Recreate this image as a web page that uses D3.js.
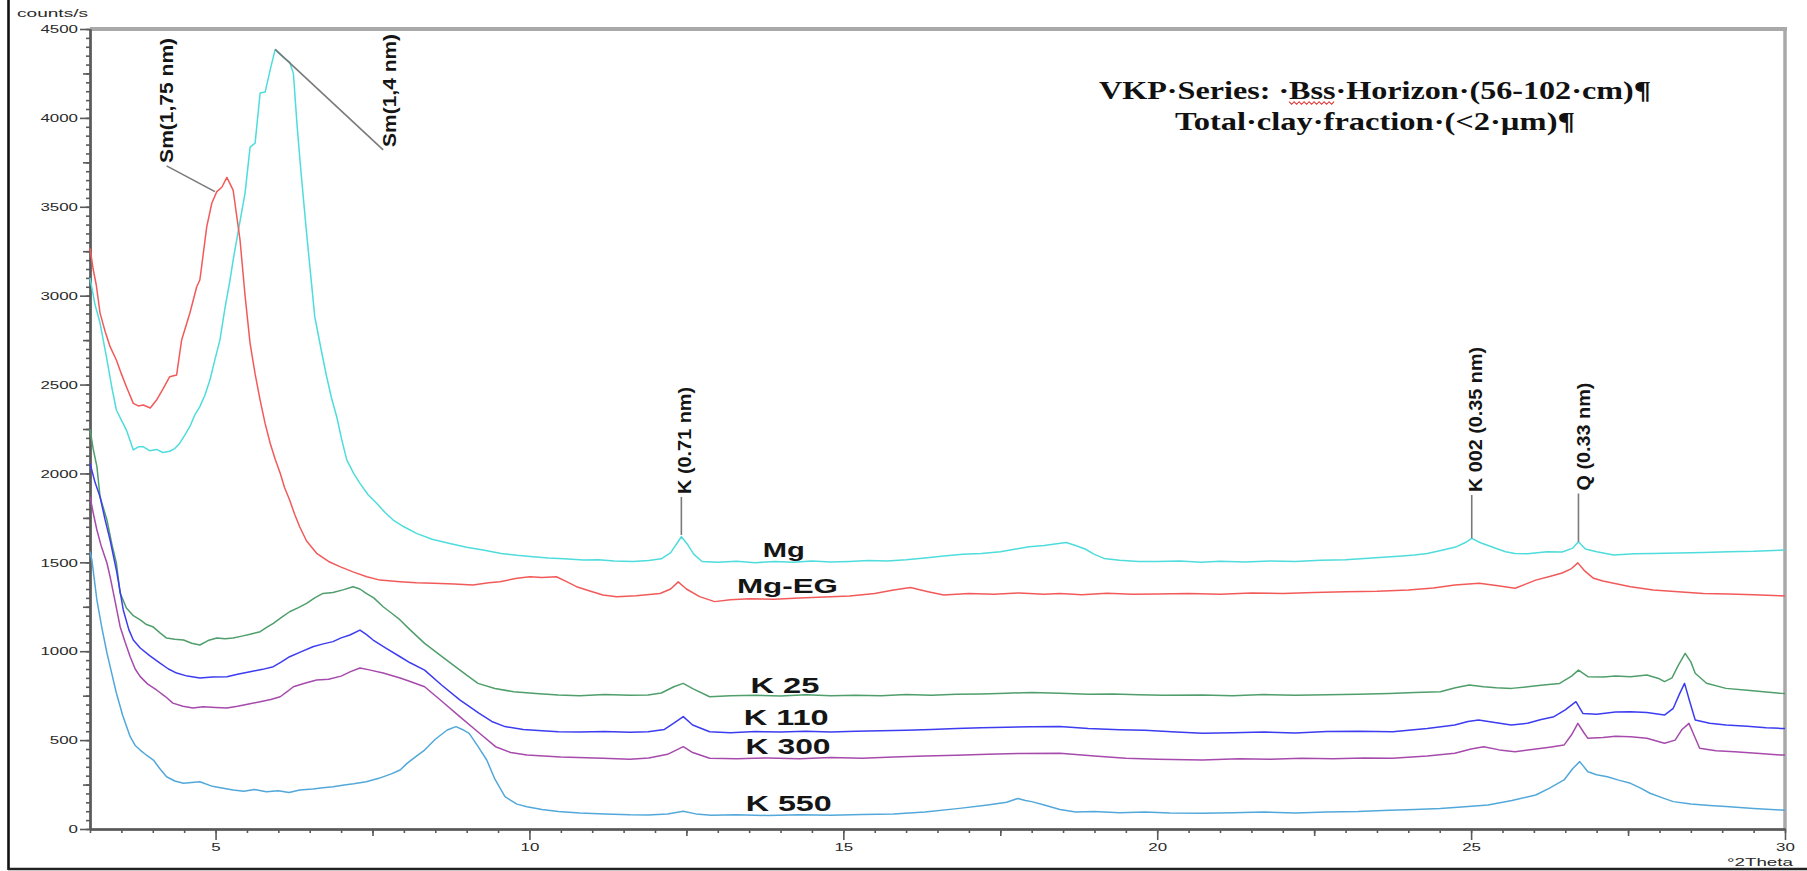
<!DOCTYPE html>
<html>
<head>
<meta charset="utf-8">
<script src="https://cdn.jsdelivr.net/npm/d3@7"></script>
<style>
  body { margin: 0; background: #fff; }
  svg { display: block; }
</style>
</head>
<body>
<svg id="chart" width="1807" height="871"></svg>
<script>
// ---------------------------------------------------------------
// XRD traces: [°2Theta, counts/s]
// ---------------------------------------------------------------
const mg = [
  [3.00,3100],[3.08,2950],[3.16,2846],[3.27,2640],[3.35,2480],[3.42,2357],[3.50,2300],[3.58,2244],
  [3.69,2132],[3.77,2150],[3.85,2150],[3.95,2128],[4.06,2135],[4.16,2118],[4.27,2125],[4.35,2140],
  [4.43,2170],[4.51,2215],[4.59,2263],[4.67,2330],[4.75,2376],[4.83,2440],[4.91,2525],[4.99,2640],
  [5.07,2751],[5.15,2930],[5.23,3088],[5.28,3200],[5.37,3380],[5.47,3577],[5.55,3836],[5.63,3858],
  [5.71,4140],[5.79,4145],[5.87,4270],[5.95,4385],[6.02,4360],[6.10,4335],[6.18,4314],[6.24,4250],
  [6.30,3950],[6.36,3700],[6.45,3352],[6.52,3100],[6.58,2882],[6.68,2700],[6.77,2544],[6.85,2420],
  [6.93,2319],[7.01,2190],[7.09,2076],[7.20,2000],[7.30,1944],[7.43,1880],[7.57,1831],[7.70,1780],
  [7.83,1738],[8.00,1700],[8.20,1663],[8.45,1630],[8.73,1606],[9.00,1585],[9.26,1569],[9.55,1550],
  [9.80,1540],[10.06,1532],[10.30,1525],[10.55,1520],[10.86,1513],[11.10,1515],[11.35,1508],[11.65,1504],
  [11.90,1510],[12.10,1520],[12.25,1555],[12.42,1644],[12.52,1600],[12.62,1545],[12.75,1505],[13.00,1500],
  [13.30,1506],[13.60,1498],[13.90,1505],[14.20,1500],[14.50,1508],[14.80,1502],[15.10,1505],[15.40,1510],
  [15.70,1508],[16.00,1515],[16.30,1525],[16.60,1535],[16.90,1545],[17.20,1550],[17.50,1560],[17.75,1575],
  [17.96,1588],[18.20,1595],[18.40,1605],[18.55,1612],[18.70,1595],[18.85,1575],[19.00,1545],[19.15,1522],
  [19.40,1512],[19.70,1505],[20.00,1505],[20.36,1508],[20.70,1500],[21.00,1506],[21.40,1502],[21.80,1508],
  [22.20,1505],[22.60,1512],[23.00,1515],[23.30,1522],[23.60,1528],[23.90,1535],[24.10,1541],[24.30,1550],
  [24.50,1565],[24.77,1588],[24.90,1610],[25.01,1635],[25.15,1610],[25.39,1579],[25.55,1560],[25.70,1550],
  [25.90,1548],[26.21,1560],[26.45,1558],[26.62,1580],[26.71,1616],[26.82,1575],[27.00,1560],[27.27,1541],
  [27.60,1548],[27.90,1550],[28.30,1552],[28.70,1556],[29.10,1560],[29.50,1562],[30.00,1569]
];

const mgEG = [
  [3.00,3268],[3.05,3150],[3.10,3060],[3.16,2902],[3.24,2800],[3.32,2713],[3.42,2638],[3.50,2560],
  [3.58,2488],[3.69,2394],[3.77,2380],[3.85,2385],[3.96,2368],[4.06,2413],[4.17,2480],[4.27,2544],
  [4.38,2554],[4.46,2751],[4.59,2901],[4.70,3050],[4.75,3088],[4.86,3388],[4.94,3520],[5.02,3585],
  [5.10,3610],[5.18,3665],[5.28,3594],[5.39,3313],[5.47,3000],[5.55,2732],[5.63,2560],[5.71,2413],
  [5.79,2280],[5.87,2170],[5.95,2080],[6.03,2001],[6.10,1920],[6.18,1851],[6.26,1770],[6.34,1700],
  [6.45,1620],[6.61,1551],[6.80,1505],[6.98,1476],[7.20,1445],[7.41,1419],[7.62,1400],[7.94,1391],
  [8.20,1385],[8.47,1382],[8.80,1378],[9.10,1372],[9.35,1385],[9.53,1391],[9.80,1410],[10.01,1419],
  [10.20,1415],[10.43,1419],[10.60,1390],[10.75,1363],[11.00,1335],[11.17,1316],[11.39,1307],[11.70,1312],
  [12.08,1325],[12.25,1350],[12.37,1390],[12.50,1350],[12.71,1307],[12.95,1279],[13.20,1290],[13.50,1295],
  [13.90,1292],[14.30,1300],[14.70,1305],[15.10,1310],[15.50,1325],[15.80,1345],[16.07,1358],[16.35,1335],
  [16.60,1316],[17.00,1325],[17.40,1320],[17.80,1328],[18.20,1320],[18.45,1325],[18.80,1318],[19.20,1326],
  [19.60,1320],[20.00,1322],[20.50,1325],[21.00,1320],[21.50,1328],[22.00,1325],[22.50,1330],[23.00,1335],
  [23.50,1338],[24.00,1345],[24.40,1355],[24.74,1372],[25.13,1382],[25.40,1370],[25.70,1354],[26.03,1400],
  [26.25,1420],[26.45,1440],[26.60,1465],[26.70,1497],[26.80,1455],[26.95,1410],[27.10,1395],[27.27,1382],
  [27.54,1363],[27.90,1344],[28.30,1335],[28.70,1325],[29.10,1322],[29.50,1318],[29.93,1312],[30.00,1310]
];

const k25 = [
  [3.00,2250],[3.05,2140],[3.11,2038],[3.16,1869],[3.27,1738],[3.35,1600],[3.42,1496],[3.48,1327],
  [3.58,1243],[3.69,1200],[3.80,1176],[3.90,1150],[4.00,1138],[4.11,1105],[4.22,1074],[4.35,1068],
  [4.49,1063],[4.62,1045],[4.75,1035],[4.88,1060],[5.02,1074],[5.15,1070],[5.28,1074],[5.42,1085],
  [5.55,1095],[5.71,1110],[5.82,1135],[5.92,1157],[6.05,1190],[6.18,1222],[6.32,1245],[6.45,1269],
  [6.58,1300],[6.71,1325],[6.87,1330],[7.03,1345],[7.19,1363],[7.30,1350],[7.40,1325],[7.52,1300],
  [7.67,1250],[7.80,1215],[7.94,1176],[8.10,1120],[8.33,1044],[8.55,985],[8.75,932],[9.00,865],
  [9.18,819],[9.45,790],[9.75,772],[10.10,762],[10.46,754],[10.80,750],[11.20,756],[11.60,752],
  [11.89,754],[12.10,765],[12.30,800],[12.45,819],[12.60,790],[12.87,744],[13.20,750],[13.60,752],
  [14.00,748],[14.40,755],[14.80,750],[15.20,753],[15.60,750],[16.00,756],[16.40,752],[16.80,758],
  [17.20,760],[17.60,764],[18.00,768],[18.45,763],[18.90,758],[19.30,760],[19.70,755],[20.10,752],
  [20.72,754],[21.20,750],[21.70,756],[22.20,752],[22.70,755],[23.20,758],[23.70,762],[24.10,768],
  [24.51,772],[24.75,795],[24.97,810],[25.20,800],[25.40,795],[25.64,791],[25.90,800],[26.15,810],
  [26.41,819],[26.60,860],[26.71,894],[26.86,857],[27.10,855],[27.30,860],[27.54,857],[27.80,866],
  [28.00,845],[28.08,829],[28.20,850],[28.30,920],[28.41,988],[28.50,940],[28.57,876],[28.75,820],
  [29.06,791],[29.40,780],[29.70,770],[29.93,763],[30.00,762]
];

const k110 = [
  [3.00,2057],[3.08,1950],[3.16,1869],[3.24,1740],[3.32,1625],[3.42,1457],[3.53,1232],[3.62,1120],
  [3.69,1063],[3.80,1018],[3.95,975],[4.11,934],[4.25,900],[4.38,877],[4.55,860],[4.75,849],
  [4.95,855],[5.18,857],[5.35,870],[5.55,885],[5.75,898],[5.92,913],[6.05,940],[6.18,969],
  [6.35,995],[6.55,1025],[6.70,1040],[6.87,1054],[7.00,1075],[7.14,1091],[7.30,1119],[7.40,1095],
  [7.51,1063],[7.70,1020],[7.94,969],[8.10,935],[8.33,894],[8.60,810],[8.89,726],[9.20,650],
  [9.40,605],[9.61,576],[9.90,560],[10.20,552],[10.46,547],[10.80,545],[11.20,548],[11.60,544],
  [11.89,547],[12.15,560],[12.30,595],[12.45,632],[12.60,585],[12.87,547],[13.20,542],[13.60,548],
  [14.00,545],[14.40,550],[14.80,546],[15.20,550],[15.60,552],[16.00,556],[16.40,560],[16.80,565],
  [17.20,570],[17.60,572],[18.00,575],[18.45,576],[18.90,565],[19.40,558],[19.80,555],[20.30,545],
  [20.72,538],[21.20,542],[21.70,545],[22.20,540],[22.70,548],[23.20,550],[23.75,547],[24.30,565],
  [24.74,585],[24.95,605],[25.12,613],[25.35,600],[25.64,585],[25.90,595],[26.10,615],[26.32,632],
  [26.50,670],[26.67,716],[26.78,650],[27.00,645],[27.30,658],[27.54,660],[27.80,655],[28.08,641],
  [28.22,679],[28.32,760],[28.40,819],[28.48,720],[28.57,613],[28.80,595],[29.06,585],[29.40,578],
  [29.70,570],[29.93,566],[30.00,566]
];

const k300 = [
  [3.00,1869],[3.05,1780],[3.11,1682],[3.18,1590],[3.27,1496],[3.32,1420],[3.40,1280],[3.48,1138],
  [3.56,1050],[3.64,969],[3.72,900],[3.80,857],[3.92,815],[4.06,782],[4.20,745],[4.32,708],
  [4.48,690],[4.64,680],[4.80,688],[5.00,684],[5.18,680],[5.35,690],[5.55,705],[5.71,716],
  [5.88,728],[6.03,744],[6.15,775],[6.24,800],[6.42,820],[6.61,838],[6.80,842],[7.00,860],
  [7.15,885],[7.30,906],[7.45,895],[7.67,877],[7.94,849],[8.10,830],[8.33,800],[8.60,720],
  [8.89,632],[9.20,540],[9.46,463],[9.70,430],[9.96,416],[10.50,405],[11.17,398],[11.60,392],
  [11.90,400],[12.20,420],[12.45,463],[12.60,430],[12.87,398],[13.30,395],[13.80,400],[14.30,395],
  [14.80,402],[15.30,398],[15.80,405],[16.30,410],[16.80,415],[17.30,420],[17.80,425],[18.45,426],
  [19.00,410],[19.50,398],[20.00,392],[20.72,388],[21.30,395],[21.80,392],[22.30,398],[22.80,395],
  [23.30,400],[23.75,398],[24.30,410],[24.74,426],[25.00,450],[25.20,463],[25.45,445],[25.70,435],
  [26.00,448],[26.25,460],[26.48,472],[26.60,530],[26.70,594],[26.80,540],[26.86,510],[27.10,515],
  [27.30,522],[27.54,519],[27.80,510],[28.08,482],[28.25,500],[28.36,560],[28.47,594],[28.56,520],
  [28.64,454],[28.90,440],[29.20,435],[29.60,425],[29.93,416],[30.00,416]
];

const k550 = [
  [3.00,1560],[3.03,1513],[3.07,1400],[3.11,1288],[3.19,1130],[3.27,990],[3.35,870],[3.42,765],
  [3.52,640],[3.64,519],[3.72,470],[3.80,444],[3.90,415],[4.01,388],[4.11,340],[4.22,294],
  [4.35,270],[4.49,257],[4.62,262],[4.75,266],[4.95,240],[5.10,230],[5.28,219],[5.45,212],
  [5.62,222],[5.81,210],[6.00,215],[6.17,205],[6.34,219],[6.55,225],[6.71,232],[6.87,238],
  [7.05,248],[7.20,255],[7.40,266],[7.60,285],[7.80,310],[7.94,332],[8.05,369],[8.20,410],
  [8.33,444],[8.50,505],[8.69,557],[8.83,576],[8.93,560],[9.04,538],[9.18,465],[9.32,388],
  [9.45,280],[9.61,182],[9.80,140],[9.96,125],[10.20,110],[10.46,98],[10.80,90],[11.20,85],
  [11.60,80],[11.89,79],[12.20,85],[12.45,100],[12.65,85],[12.90,78],[13.30,80],[13.80,76],
  [14.30,80],[14.80,78],[15.30,82],[15.80,85],[16.30,95],[16.85,116],[17.30,135],[17.60,150],
  [17.78,172],[17.90,160],[18.00,154],[18.20,135],[18.45,110],[18.70,95],[19.00,98],[19.40,92],
  [19.80,95],[20.20,90],[20.72,88],[21.20,92],[21.70,95],[22.20,90],[22.70,95],[23.20,98],
  [23.70,105],[24.10,110],[24.51,116],[24.90,125],[25.27,135],[25.65,160],[26.03,191],[26.25,230],
  [26.48,276],[26.62,340],[26.73,379],[26.86,322],[27.00,305],[27.17,294],[27.35,275],[27.54,257],
  [27.70,230],[27.85,201],[28.05,175],[28.22,154],[28.50,140],[28.80,132],[29.06,126],[29.50,115],
  [29.93,107],[30.00,106]
];

const seriesNames = ["Mg", "Mg-EG", "K 25", "K 110", "K 300", "K 550"];
const seriesValues = [mg, mgEG, k25, k110, k300, k550];

// Reflection labels: text, peak position [°2Theta, counts], label foot [°2Theta, counts]
const peakLabels = ["Sm(1,75 nm)", "Sm(1,4 nm)", "K (0.71 nm)", "K 002 (0.35 nm)", "Q (0.33 nm)"];
const peakAt    = [[4.99, 3585], [5.95, 4385], [12.42, 1654], [25.01, 1635], [26.71, 1616]];
const labelFoot = [[4.22, 3730], [7.67, 3820], [12.42, 1868], [25.01, 1879], [26.71, 1887]];

// Curve name positions [°2Theta, counts]
const namePos = [[14.05, 1530], [14.11, 1327], [14.07, 765], [14.09, 585], [14.12, 422], [14.13, 101]];

const yTicks = [0, 500, 1000, 1500, 2000, 2500, 3000, 3500, 4000, 4500];
const xTicks = [5, 10, 15, 20, 25, 30];

const titleLines = [
  "VKP\u00b7Series: \u00b7Bss\u00b7Horizon\u00b7(56-102\u00b7cm)\u00b6",
  "Total\u00b7clay\u00b7fraction\u00b7(<2\u00b7\u00b5m)\u00b6"
];

// ---------------------------------------------------------------
// Styling / layout
// ---------------------------------------------------------------
const colors = ["#4fdcdc", "#f25a5a", "#4f9e6b", "#3c3cf0", "#a64aac", "#52a8da"];
const nameSize = [20, 20, 22, 22, 22, 22];
const nameWidth = [42, 101, 69, 85, 85, 86];
const labelLen = [125, 113, 107, 145, 108];
const labelDx = [0, 7, 4, 4, 6];

const svg = d3.select("#chart");
const plot = { left: 90, right: 1785, top: 29, bottom: 829 };

const x = d3.scaleLinear().domain([3, 30]).range([plot.left, plot.right]);
const y = d3.scaleLinear().domain([0, 4500]).range([plot.bottom, plot.top]);

const sans = "'Liberation Sans', Arial, sans-serif";

// outer frame (left and bottom edges)
svg.append("line").attr("x1", 8.5).attr("x2", 8.5).attr("y1", 0).attr("y2", 870)
  .attr("stroke", "#111").attr("stroke-width", 2.6);
svg.append("line").attr("x1", 8).attr("x2", 1807).attr("y1", 869).attr("y2", 869)
  .attr("stroke", "#222").attr("stroke-width", 2.4);

// top and right plot border
svg.append("line").attr("x1", plot.left).attr("x2", plot.right + 2).attr("y1", plot.top).attr("y2", plot.top)
  .attr("stroke", "#a9a9a9").attr("stroke-width", 4);
svg.append("line").attr("x1", plot.right).attr("x2", plot.right).attr("y1", plot.top).attr("y2", plot.bottom)
  .attr("stroke", "#a9a9a9").attr("stroke-width", 3.5);

// ---------------- axes ----------------
function styleAxis(g) {
  g.select(".domain").attr("stroke", "#5a5a5a").attr("stroke-width", 2);
  g.selectAll(".tick line").attr("stroke", "#5a5a5a").attr("stroke-width", 1.6);
}

const yMinor = svg.append("g").attr("transform", `translate(${plot.left},0)`)
  .call(d3.axisLeft(y).tickValues(d3.range(0, 4501, 50)).tickSize(4).tickFormat("").tickSizeOuter(0));
styleAxis(yMinor);
const yMid = svg.append("g").attr("transform", `translate(${plot.left},0)`)
  .call(d3.axisLeft(y).tickValues(d3.range(250, 4500, 500)).tickSize(7).tickFormat("").tickSizeOuter(0));
styleAxis(yMid);
const yMajor = svg.append("g").attr("transform", `translate(${plot.left},0)`)
  .call(d3.axisLeft(y).tickValues(yTicks).tickSize(10).tickPadding(2).tickSizeOuter(0).tickFormat(d3.format("d")));
styleAxis(yMajor);
yMajor.selectAll("text")
  .attr("font-family", sans).attr("font-size", 11.5).attr("fill", "#2a2a2a")
  .attr("textLength", d => String(d).length * 9.4).attr("lengthAdjust", "spacingAndGlyphs");

const xMinor = svg.append("g").attr("transform", `translate(0,${plot.bottom})`)
  .call(d3.axisBottom(x).tickValues(d3.range(3, 30.01, 0.5)).tickSize(4).tickFormat("").tickSizeOuter(0));
styleAxis(xMinor);
const xMid = svg.append("g").attr("transform", `translate(0,${plot.bottom})`)
  .call(d3.axisBottom(x).tickValues(d3.range(7.5, 30, 5)).tickSize(7).tickFormat("").tickSizeOuter(0));
styleAxis(xMid);
const xMajor = svg.append("g").attr("transform", `translate(0,${plot.bottom})`)
  .call(d3.axisBottom(x).tickValues(xTicks).tickSize(11).tickPadding(3).tickSizeOuter(0).tickFormat(d3.format("d")));
styleAxis(xMajor);
xMajor.selectAll("text")
  .attr("font-family", sans).attr("font-size", 11.5).attr("fill", "#2a2a2a")
  .attr("textLength", d => String(d).length * 9.4).attr("lengthAdjust", "spacingAndGlyphs");

// axis captions
svg.append("text").attr("x", 17).attr("y", 17)
  .attr("font-family", sans).attr("font-size", 11).attr("fill", "#2a2a2a")
  .attr("textLength", 71).attr("lengthAdjust", "spacingAndGlyphs")
  .text("counts/s");
svg.append("text").attr("x", 1793).attr("y", 866).attr("text-anchor", "end")
  .attr("font-family", sans).attr("font-size", 11).attr("fill", "#2a2a2a")
  .attr("textLength", 66).attr("lengthAdjust", "spacingAndGlyphs")
  .text("\u00b02Theta");

// ---------------- traces ----------------
const line = d3.line().x(d => x(d[0])).y(d => y(d[1]));
const traces = svg.append("g").attr("fill", "none").attr("stroke-linejoin", "round");
seriesValues.forEach((vals, i) => {
  traces.append("path").datum(vals)
    .attr("d", line)
    .attr("stroke", colors[i])
    .attr("stroke-width", 1.5);
});

// curve names
seriesNames.forEach((name, i) => {
  svg.append("text")
    .attr("x", x(namePos[i][0])).attr("y", y(namePos[i][1]))
    .attr("text-anchor", "middle")
    .attr("font-family", sans).attr("font-weight", "bold")
    .attr("font-size", nameSize[i]).attr("fill", "#151515")
    .attr("textLength", nameWidth[i]).attr("lengthAdjust", "spacingAndGlyphs")
    .text(name);
});

// ---------------- reflection labels ----------------
peakLabels.forEach((txt, i) => {
  const px = x(peakAt[i][0]), py = y(peakAt[i][1]);
  const fx = x(labelFoot[i][0]), fy = y(labelFoot[i][1]);
  svg.append("line")
    .attr("x1", px).attr("y1", py).attr("x2", fx).attr("y2", fy)
    .attr("stroke", "#7a7a7a").attr("stroke-width", 1.6);
  svg.append("text")
    .attr("transform", `translate(${fx + labelDx[i]},${fy - 3}) rotate(-90)`)
    .attr("dominant-baseline", "central")
    .attr("font-family", sans).attr("font-weight", "bold")
    .attr("font-size", 18).attr("fill", "#151515")
    .attr("textLength", labelLen[i]).attr("lengthAdjust", "spacingAndGlyphs")
    .text(txt);
});

// ---------------- title ----------------
const serif = "'Liberation Serif', 'Times New Roman', serif";
const titleWidth = [552, 400];
const titleY = [99, 130];
const titleNodes = titleLines.map((t, i) =>
  svg.append("text")
    .attr("x", 1375).attr("y", titleY[i])
    .attr("text-anchor", "middle")
    .attr("font-family", serif).attr("font-weight", "bold")
    .attr("font-size", 26).attr("fill", "#111")
    .attr("textLength", titleWidth[i]).attr("lengthAdjust", "spacingAndGlyphs")
    .text(t)
);

// spell-check squiggle under "Bss"
(function () {
  const node = titleNodes[0].node();
  const idx = titleLines[0].indexOf("Bss");
  const x0 = node.getStartPositionOfChar(idx).x;
  const x1 = node.getEndPositionOfChar(idx + 2).x;
  const yb = titleY[0] + 4;
  const pts = [];
  let up = true;
  for (let xx = x0; xx <= x1; xx += 2.5) { pts.push([xx, up ? yb - 1.3 : yb + 1.3]); up = !up; }
  svg.append("path").attr("d", d3.line()(pts))
    .attr("fill", "none").attr("stroke", "#e03030").attr("stroke-width", 1.1);
})();
</script>
</body>
</html>
